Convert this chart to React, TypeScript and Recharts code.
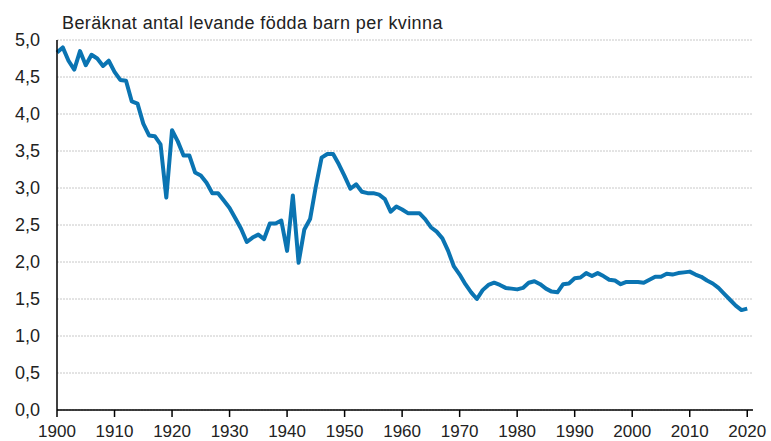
import { LineChart, Line, XAxis, YAxis, CartesianGrid } from 'recharts';

// Total fertility rate, 1900–2020
const startYear = 1900;
const fertility = [
  4.83, 4.90, 4.72, 4.60, 4.85, 4.66, 4.80, 4.75, 4.65, 4.72,
  4.57, 4.46, 4.45, 4.17, 4.14, 3.87, 3.71, 3.70, 3.59, 2.87,
  3.78, 3.63, 3.44, 3.44, 3.21, 3.17, 3.07, 2.93, 2.93, 2.83,
  2.73, 2.59, 2.45, 2.27, 2.33, 2.37, 2.31, 2.52, 2.52, 2.56,
  2.15, 2.90, 1.99, 2.44, 2.58, 3.02, 3.41, 3.46, 3.46, 3.32,
  3.16, 2.99, 3.05, 2.95, 2.93, 2.93, 2.91, 2.85, 2.68, 2.75,
  2.71, 2.66, 2.66, 2.66, 2.58, 2.47, 2.41, 2.32, 2.15, 1.94,
  1.83, 1.70, 1.59, 1.50, 1.62, 1.69, 1.72, 1.69, 1.65, 1.64,
  1.63, 1.65, 1.72, 1.74, 1.70, 1.64, 1.60, 1.59, 1.70, 1.71,
  1.78, 1.79, 1.85, 1.81, 1.85, 1.81, 1.76, 1.75, 1.70, 1.73,
  1.73, 1.73, 1.72, 1.76, 1.80, 1.80, 1.84, 1.83, 1.85, 1.86,
  1.87, 1.83, 1.80, 1.75, 1.71, 1.65, 1.57, 1.49, 1.41, 1.35,
  1.37,
];
const yearTicks = [1900, 1910, 1920, 1930, 1940, 1950, 1960, 1970, 1980, 1990, 2000, 2010, 2020];
const rateTicks = [0, 0.5, 1, 1.5, 2, 2.5, 3, 3.5, 4, 4.5, 5];
const title = 'Beräknat antal levande födda barn per kvinna';

const data = fertility.map((v, i) => ({ year: startYear + i, value: v }));

const font = 'Arial, "Liberation Sans", sans-serif';
const tickStyle = { fill: '#222', fontSize: 18, fontFamily: font };

export default function App() {
  return (
    <div style={{ position: 'absolute', left: 0, top: 0, background: '#fff' }}>
      <LineChart width={771} height={441} data={data} margin={{ top: 40, right: 18, left: 0, bottom: 0 }}>
        <CartesianGrid vertical={false} stroke="#c8c8c8" strokeDasharray="2 1" />
        <XAxis
          dataKey="year"
          type="number"
          domain={[1900, 2021]}
          ticks={yearTicks}
          height={31}
          tick={{ ...tickStyle, fontSize: 17 }}
          tickSize={7}
          tickMargin={8}
          axisLine={{ stroke: '#000', strokeWidth: 1.5 }}
          tickLine={{ stroke: '#000', strokeWidth: 1.5 }}
        />
        <YAxis
          type="number"
          domain={[0, 5]}
          ticks={rateTicks}
          width={57}
          tick={tickStyle}
          tickLine={false}
          tickMargin={11}
          axisLine={{ stroke: '#000', strokeWidth: 1.5 }}
          tickFormatter={(v: number) => v.toFixed(1).replace('.', ',')}
        />
        <Line
          dataKey="value"
          stroke="#0a74b2"
          strokeWidth={4}
          dot={false}
          isAnimationActive={false}
          strokeLinejoin="round"
        />
        <text x={62} y={29} fontSize={18} letterSpacing={0.4} fontFamily={font} fill="#222">
          {title}
        </text>
      </LineChart>
    </div>
  );
}
